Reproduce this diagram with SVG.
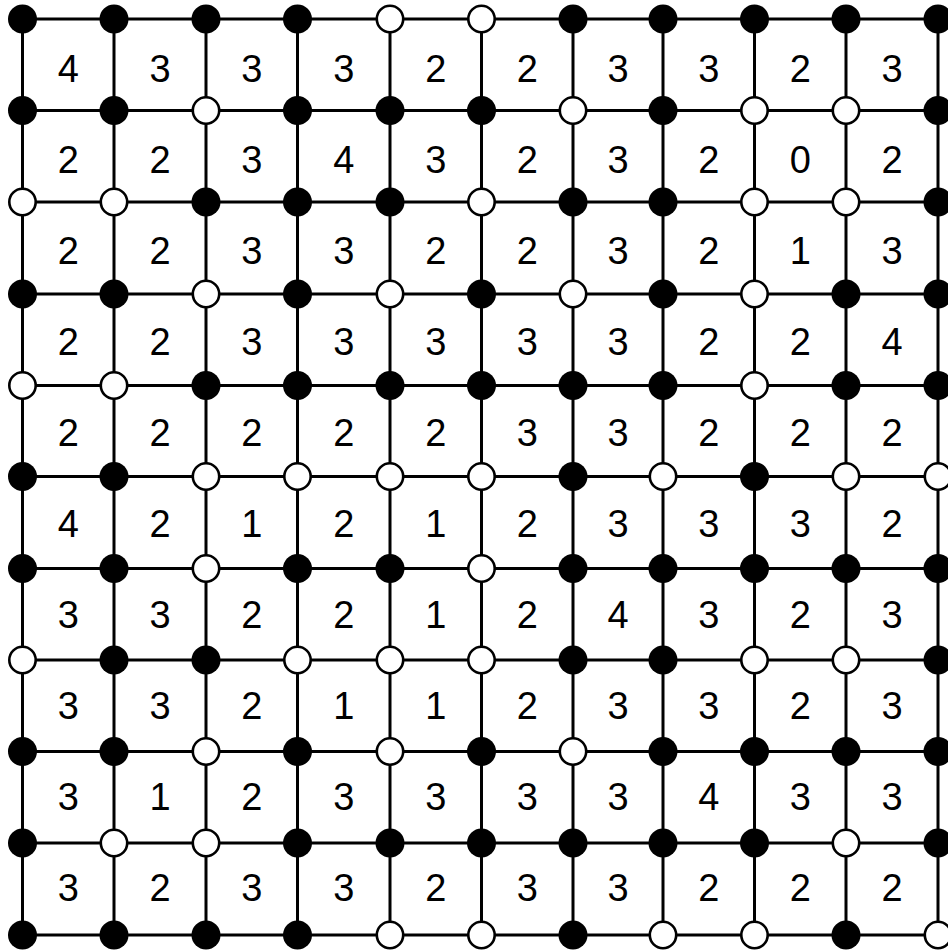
<svg xmlns="http://www.w3.org/2000/svg" width="948" height="952" viewBox="0 0 948 952">
<style>
.ln{stroke:#000;stroke-width:3;fill:none}
.b{fill:#000}
.w{fill:#fff;stroke:#000;stroke-width:2.6}
text{font-family:"Liberation Sans",Arial,sans-serif;font-size:38px;fill:#000;text-anchor:middle}
</style>
<rect width="948" height="952" fill="#fff"/>
<g id="connectors" class="ln">
<line x1="22.5" y1="19" x2="938" y2="19"/>
<line x1="22.5" y1="110.5" x2="938" y2="110.5"/>
<line x1="22.5" y1="202" x2="938" y2="202"/>
<line x1="22.5" y1="294" x2="938" y2="294"/>
<line x1="22.5" y1="385.5" x2="938" y2="385.5"/>
<line x1="22.5" y1="476.5" x2="938" y2="476.5"/>
<line x1="22.5" y1="568.5" x2="938" y2="568.5"/>
<line x1="22.5" y1="660" x2="938" y2="660"/>
<line x1="22.5" y1="751.5" x2="938" y2="751.5"/>
<line x1="22.5" y1="843" x2="938" y2="843"/>
<line x1="22.5" y1="935" x2="938" y2="935"/>
<line x1="22.5" y1="19" x2="22.5" y2="935"/>
<line x1="114" y1="19" x2="114" y2="935"/>
<line x1="206" y1="19" x2="206" y2="935"/>
<line x1="297.5" y1="19" x2="297.5" y2="935"/>
<line x1="390" y1="19" x2="390" y2="935"/>
<line x1="481.5" y1="19" x2="481.5" y2="935"/>
<line x1="573" y1="19" x2="573" y2="935"/>
<line x1="663" y1="19" x2="663" y2="935"/>
<line x1="754.5" y1="19" x2="754.5" y2="935"/>
<line x1="846" y1="19" x2="846" y2="935"/>
<line x1="938" y1="19" x2="938" y2="935"/>
</g>
<g id="cells">
<g id="c0"><text x="68.25" y="81.5">4</text><text x="160" y="81.5">3</text><text x="251.75" y="81.5">3</text><text x="343.75" y="81.5">3</text><text x="435.75" y="81.5">2</text><text x="527.25" y="81.5">2</text><text x="618" y="81.5">3</text><text x="708.75" y="81.5">3</text><text x="800.25" y="81.5">2</text><text x="892" y="81.5">3</text></g>
<g id="c1"><text x="68.25" y="172.6">2</text><text x="160" y="172.6">2</text><text x="251.75" y="172.6">3</text><text x="343.75" y="172.6">4</text><text x="435.75" y="172.6">3</text><text x="527.25" y="172.6">2</text><text x="618" y="172.6">3</text><text x="708.75" y="172.6">2</text><text x="800.25" y="172.6">0</text><text x="892" y="172.6">2</text></g>
<g id="c2"><text x="68.25" y="263.7">2</text><text x="160" y="263.7">2</text><text x="251.75" y="263.7">3</text><text x="343.75" y="263.7">3</text><text x="435.75" y="263.7">2</text><text x="527.25" y="263.7">2</text><text x="618" y="263.7">3</text><text x="708.75" y="263.7">2</text><text x="800.25" y="263.7">1</text><text x="892" y="263.7">3</text></g>
<g id="c3"><text x="68.25" y="354.8">2</text><text x="160" y="354.8">2</text><text x="251.75" y="354.8">3</text><text x="343.75" y="354.8">3</text><text x="435.75" y="354.8">3</text><text x="527.25" y="354.8">3</text><text x="618" y="354.8">3</text><text x="708.75" y="354.8">2</text><text x="800.25" y="354.8">2</text><text x="892" y="354.8">4</text></g>
<g id="c4"><text x="68.25" y="445.9">2</text><text x="160" y="445.9">2</text><text x="251.75" y="445.9">2</text><text x="343.75" y="445.9">2</text><text x="435.75" y="445.9">2</text><text x="527.25" y="445.9">3</text><text x="618" y="445.9">3</text><text x="708.75" y="445.9">2</text><text x="800.25" y="445.9">2</text><text x="892" y="445.9">2</text></g>
<g id="c5"><text x="68.25" y="537">4</text><text x="160" y="537">2</text><text x="251.75" y="537">1</text><text x="343.75" y="537">2</text><text x="435.75" y="537">1</text><text x="527.25" y="537">2</text><text x="618" y="537">3</text><text x="708.75" y="537">3</text><text x="800.25" y="537">3</text><text x="892" y="537">2</text></g>
<g id="c6"><text x="68.25" y="628.1">3</text><text x="160" y="628.1">3</text><text x="251.75" y="628.1">2</text><text x="343.75" y="628.1">2</text><text x="435.75" y="628.1">1</text><text x="527.25" y="628.1">2</text><text x="618" y="628.1">4</text><text x="708.75" y="628.1">3</text><text x="800.25" y="628.1">2</text><text x="892" y="628.1">3</text></g>
<g id="c7"><text x="68.25" y="719.2">3</text><text x="160" y="719.2">3</text><text x="251.75" y="719.2">2</text><text x="343.75" y="719.2">1</text><text x="435.75" y="719.2">1</text><text x="527.25" y="719.2">2</text><text x="618" y="719.2">3</text><text x="708.75" y="719.2">3</text><text x="800.25" y="719.2">2</text><text x="892" y="719.2">3</text></g>
<g id="c8"><text x="68.25" y="810.3">3</text><text x="160" y="810.3">1</text><text x="251.75" y="810.3">2</text><text x="343.75" y="810.3">3</text><text x="435.75" y="810.3">3</text><text x="527.25" y="810.3">3</text><text x="618" y="810.3">3</text><text x="708.75" y="810.3">4</text><text x="800.25" y="810.3">3</text><text x="892" y="810.3">3</text></g>
<g id="c9"><text x="68.25" y="901.4">3</text><text x="160" y="901.4">2</text><text x="251.75" y="901.4">3</text><text x="343.75" y="901.4">3</text><text x="435.75" y="901.4">2</text><text x="527.25" y="901.4">3</text><text x="618" y="901.4">3</text><text x="708.75" y="901.4">2</text><text x="800.25" y="901.4">2</text><text x="892" y="901.4">2</text></g>
</g>
<g id="vertices">
<g id="v0"><circle class="b" cx="22.5" cy="19" r="14.5"/><circle class="b" cx="114" cy="19" r="14.5"/><circle class="b" cx="206" cy="19" r="14.5"/><circle class="b" cx="297.5" cy="19" r="14.5"/><circle class="w" cx="390" cy="19" r="13.2"/><circle class="w" cx="481.5" cy="19" r="13.2"/><circle class="b" cx="573" cy="19" r="14.5"/><circle class="b" cx="663" cy="19" r="14.5"/><circle class="b" cx="754.5" cy="19" r="14.5"/><circle class="b" cx="846" cy="19" r="14.5"/><circle class="b" cx="938" cy="19" r="14.5"/></g>
<g id="v1"><circle class="b" cx="22.5" cy="110.5" r="14.5"/><circle class="b" cx="114" cy="110.5" r="14.5"/><circle class="w" cx="206" cy="110.5" r="13.2"/><circle class="b" cx="297.5" cy="110.5" r="14.5"/><circle class="b" cx="390" cy="110.5" r="14.5"/><circle class="b" cx="481.5" cy="110.5" r="14.5"/><circle class="w" cx="573" cy="110.5" r="13.2"/><circle class="b" cx="663" cy="110.5" r="14.5"/><circle class="w" cx="754.5" cy="110.5" r="13.2"/><circle class="w" cx="846" cy="110.5" r="13.2"/><circle class="b" cx="938" cy="110.5" r="14.5"/></g>
<g id="v2"><circle class="w" cx="22.5" cy="202" r="13.2"/><circle class="w" cx="114" cy="202" r="13.2"/><circle class="b" cx="206" cy="202" r="14.5"/><circle class="b" cx="297.5" cy="202" r="14.5"/><circle class="b" cx="390" cy="202" r="14.5"/><circle class="w" cx="481.5" cy="202" r="13.2"/><circle class="b" cx="573" cy="202" r="14.5"/><circle class="b" cx="663" cy="202" r="14.5"/><circle class="w" cx="754.5" cy="202" r="13.2"/><circle class="w" cx="846" cy="202" r="13.2"/><circle class="b" cx="938" cy="202" r="14.5"/></g>
<g id="v3"><circle class="b" cx="22.5" cy="294" r="14.5"/><circle class="b" cx="114" cy="294" r="14.5"/><circle class="w" cx="206" cy="294" r="13.2"/><circle class="b" cx="297.5" cy="294" r="14.5"/><circle class="w" cx="390" cy="294" r="13.2"/><circle class="b" cx="481.5" cy="294" r="14.5"/><circle class="w" cx="573" cy="294" r="13.2"/><circle class="b" cx="663" cy="294" r="14.5"/><circle class="w" cx="754.5" cy="294" r="13.2"/><circle class="b" cx="846" cy="294" r="14.5"/><circle class="b" cx="938" cy="294" r="14.5"/></g>
<g id="v4"><circle class="w" cx="22.5" cy="385.5" r="13.2"/><circle class="w" cx="114" cy="385.5" r="13.2"/><circle class="b" cx="206" cy="385.5" r="14.5"/><circle class="b" cx="297.5" cy="385.5" r="14.5"/><circle class="b" cx="390" cy="385.5" r="14.5"/><circle class="b" cx="481.5" cy="385.5" r="14.5"/><circle class="b" cx="573" cy="385.5" r="14.5"/><circle class="b" cx="663" cy="385.5" r="14.5"/><circle class="w" cx="754.5" cy="385.5" r="13.2"/><circle class="b" cx="846" cy="385.5" r="14.5"/><circle class="b" cx="938" cy="385.5" r="14.5"/></g>
<g id="v5"><circle class="b" cx="22.5" cy="476.5" r="14.5"/><circle class="b" cx="114" cy="476.5" r="14.5"/><circle class="w" cx="206" cy="476.5" r="13.2"/><circle class="w" cx="297.5" cy="476.5" r="13.2"/><circle class="w" cx="390" cy="476.5" r="13.2"/><circle class="w" cx="481.5" cy="476.5" r="13.2"/><circle class="b" cx="573" cy="476.5" r="14.5"/><circle class="w" cx="663" cy="476.5" r="13.2"/><circle class="b" cx="754.5" cy="476.5" r="14.5"/><circle class="w" cx="846" cy="476.5" r="13.2"/><circle class="w" cx="938" cy="476.5" r="13.2"/></g>
<g id="v6"><circle class="b" cx="22.5" cy="568.5" r="14.5"/><circle class="b" cx="114" cy="568.5" r="14.5"/><circle class="w" cx="206" cy="568.5" r="13.2"/><circle class="b" cx="297.5" cy="568.5" r="14.5"/><circle class="b" cx="390" cy="568.5" r="14.5"/><circle class="w" cx="481.5" cy="568.5" r="13.2"/><circle class="b" cx="573" cy="568.5" r="14.5"/><circle class="b" cx="663" cy="568.5" r="14.5"/><circle class="b" cx="754.5" cy="568.5" r="14.5"/><circle class="b" cx="846" cy="568.5" r="14.5"/><circle class="b" cx="938" cy="568.5" r="14.5"/></g>
<g id="v7"><circle class="w" cx="22.5" cy="660" r="13.2"/><circle class="b" cx="114" cy="660" r="14.5"/><circle class="b" cx="206" cy="660" r="14.5"/><circle class="w" cx="297.5" cy="660" r="13.2"/><circle class="w" cx="390" cy="660" r="13.2"/><circle class="w" cx="481.5" cy="660" r="13.2"/><circle class="b" cx="573" cy="660" r="14.5"/><circle class="b" cx="663" cy="660" r="14.5"/><circle class="w" cx="754.5" cy="660" r="13.2"/><circle class="w" cx="846" cy="660" r="13.2"/><circle class="b" cx="938" cy="660" r="14.5"/></g>
<g id="v8"><circle class="b" cx="22.5" cy="751.5" r="14.5"/><circle class="b" cx="114" cy="751.5" r="14.5"/><circle class="w" cx="206" cy="751.5" r="13.2"/><circle class="b" cx="297.5" cy="751.5" r="14.5"/><circle class="w" cx="390" cy="751.5" r="13.2"/><circle class="b" cx="481.5" cy="751.5" r="14.5"/><circle class="w" cx="573" cy="751.5" r="13.2"/><circle class="b" cx="663" cy="751.5" r="14.5"/><circle class="b" cx="754.5" cy="751.5" r="14.5"/><circle class="b" cx="846" cy="751.5" r="14.5"/><circle class="b" cx="938" cy="751.5" r="14.5"/></g>
<g id="v9"><circle class="b" cx="22.5" cy="843" r="14.5"/><circle class="w" cx="114" cy="843" r="13.2"/><circle class="w" cx="206" cy="843" r="13.2"/><circle class="b" cx="297.5" cy="843" r="14.5"/><circle class="b" cx="390" cy="843" r="14.5"/><circle class="b" cx="481.5" cy="843" r="14.5"/><circle class="b" cx="573" cy="843" r="14.5"/><circle class="b" cx="663" cy="843" r="14.5"/><circle class="b" cx="754.5" cy="843" r="14.5"/><circle class="w" cx="846" cy="843" r="13.2"/><circle class="b" cx="938" cy="843" r="14.5"/></g>
<g id="v10"><circle class="b" cx="22.5" cy="935" r="14.5"/><circle class="b" cx="114" cy="935" r="14.5"/><circle class="b" cx="206" cy="935" r="14.5"/><circle class="b" cx="297.5" cy="935" r="14.5"/><circle class="w" cx="390" cy="935" r="13.2"/><circle class="w" cx="481.5" cy="935" r="13.2"/><circle class="b" cx="573" cy="935" r="14.5"/><circle class="w" cx="663" cy="935" r="13.2"/><circle class="w" cx="754.5" cy="935" r="13.2"/><circle class="b" cx="846" cy="935" r="14.5"/><circle class="w" cx="938" cy="935" r="13.2"/></g>
</g>
</svg>
